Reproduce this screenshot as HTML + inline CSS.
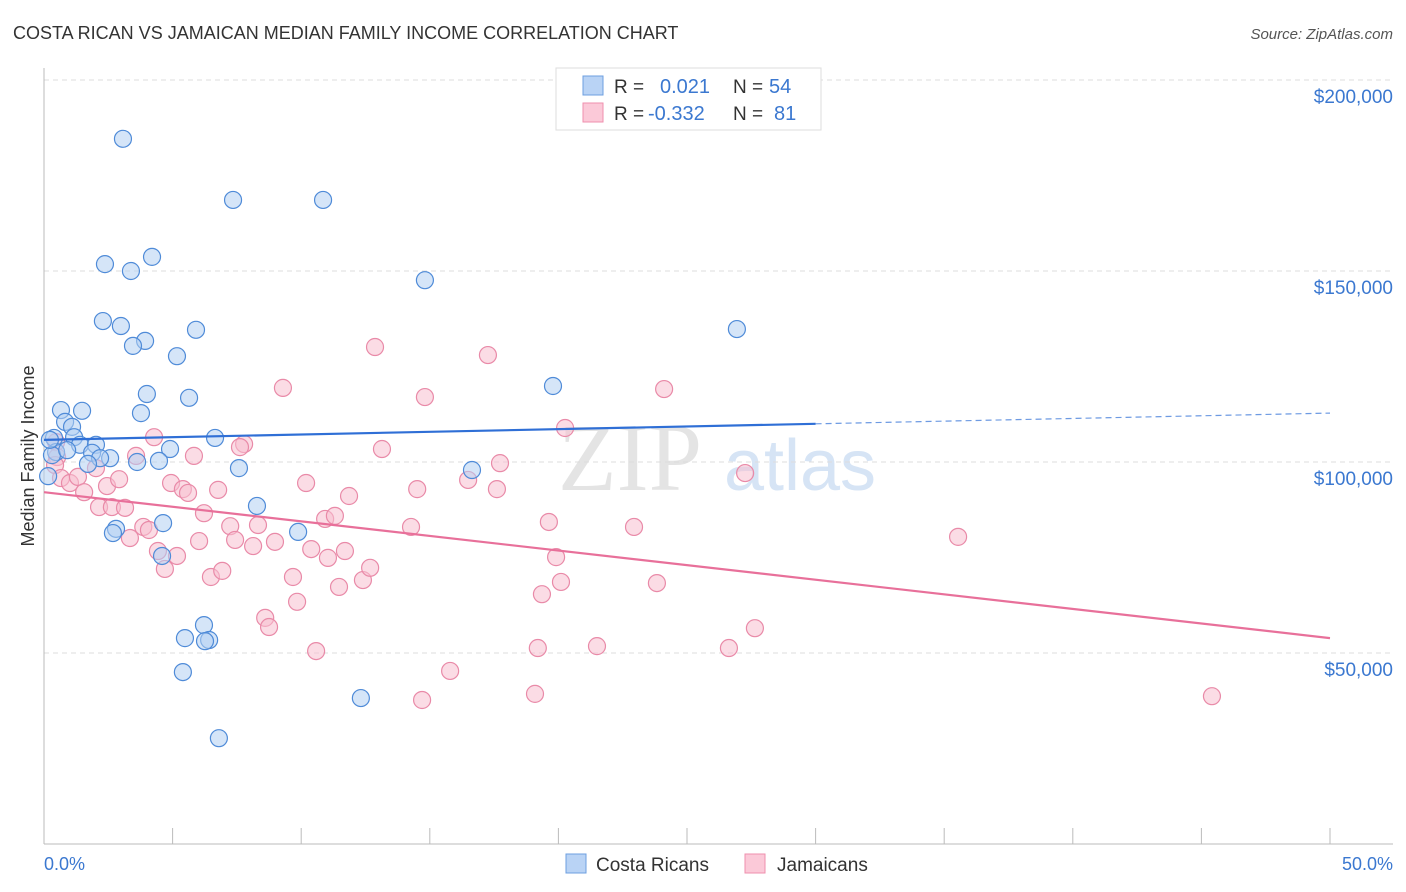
<!DOCTYPE html>
<html><head><meta charset="utf-8"><style>
body{margin:0;background:#fff;font-family:"Liberation Sans",sans-serif;}
svg{display:block}
</style></head><body>
<svg id="chart" width="1406" height="892" xmlns="http://www.w3.org/2000/svg">
<text x="13" y="39" font-size="18" fill="#333">COSTA RICAN VS JAMAICAN MEDIAN FAMILY INCOME CORRELATION CHART</text>
<text x="1393" y="39" font-size="15" fill="#555" text-anchor="end" font-style="italic">Source: ZipAtlas.com</text>
<g>
<text x="630" y="490" font-size="96" fill="#e4e4e4" font-family="Liberation Serif" text-anchor="middle">ZIP</text>
<text x="800" y="490" font-size="72" fill="#d6e4f5" text-anchor="middle">atlas</text>
</g>
<g id="grid"></g>
<g id="axes"></g>
<g id="marks"></g>
<text transform="translate(34,456) rotate(-90)" font-size="18" fill="#333" text-anchor="middle">Median Family Income</text>
<text x="44" y="870" font-size="18" fill="#3b78d0">0.0%</text>
<text x="1393" y="870" font-size="18" fill="#3b78d0" text-anchor="end">50.0%</text>
<g>
<rect x="556" y="68" width="265" height="62" fill="#fff" stroke="#ddd"/>
<rect x="583" y="76" width="20" height="19" fill="#b9d3f5" stroke="#6d9fe0"/>
<rect x="583" y="103" width="20" height="19" fill="#fbc9d8" stroke="#ef8fae"/>
<text x="614" y="93" font-size="19" fill="#333">R =</text>
<text x="660" y="93" font-size="20" fill="#3b78d0">0.021</text>
<text x="733" y="93" font-size="19" fill="#333">N =</text>
<text x="769" y="93" font-size="20" fill="#3b78d0">54</text>
<text x="614" y="120" font-size="19" fill="#333">R =</text>
<text x="648" y="120" font-size="20" fill="#3b78d0">-0.332</text>
<text x="733" y="120" font-size="19" fill="#333">N =</text>
<text x="774" y="120" font-size="20" fill="#3b78d0">81</text>
</g>
<g>
<rect x="566" y="854" width="20" height="19" fill="#b9d3f5" stroke="#6d9fe0"/>
<text x="596" y="871" font-size="19" fill="#333">Costa Ricans</text>
<rect x="745" y="854" width="20" height="19" fill="#fbc9d8" stroke="#ef8fae"/>
<text x="777" y="871" font-size="19" fill="#333">Jamaicans</text>
</g>
</svg>
<script>
const yTicks=[50000,100000,150000,200000];
const yTickLabels=["$50,000","$100,000","$150,000","$200,000"];
const blueX=[3.07,7.35,10.85,2.37,3.38,4.2,14.81,2.29,2.99,5.91,26.94,3.93,3.46,5.17,4.0,5.64,19.79,0.66,1.48,3.77,0.82,1.09,0.39,1.17,6.65,1.4,2.02,0.47,1.87,2.57,2.18,4.9,0.31,4.47,3.62,1.71,7.58,16.64,0.16,8.28,4.63,2.8,2.68,9.88,4.59,6.22,5.48,6.42,6.26,5.4,12.32,6.8,0.23,0.9];
const blueY=[184.6,168.6,168.6,151.8,150.0,153.7,147.6,136.9,135.6,134.6,134.8,131.7,130.4,127.7,117.8,116.8,119.9,113.6,113.4,112.8,110.5,109.2,106.3,106.5,106.3,104.5,104.5,102.6,102.4,101.0,101.0,103.4,101.8,100.3,100.0,99.5,98.4,97.9,96.3,88.5,84.0,82.5,81.4,81.7,75.4,57.3,53.9,53.4,53.1,45.0,38.2,27.7,105.8,103.1];
const pinkX=[4.28,7.78,7.62,13.14,20.26,14.81,9.29,12.87,17.26,24.11,27.26,35.54,45.41,0.47,0.51,0.43,0.66,1.01,1.32,1.56,2.02,2.14,2.45,2.64,2.92,3.15,3.34,3.58,3.86,4.08,4.43,4.7,4.94,5.17,5.4,5.6,5.83,6.03,6.22,6.49,6.77,6.93,7.24,7.43,8.13,8.32,8.6,8.75,8.98,9.68,9.84,10.19,10.39,10.58,10.93,11.04,11.31,11.47,11.7,11.86,12.4,12.68,14.27,14.51,14.7,15.79,16.49,17.61,17.73,19.09,19.2,19.36,19.63,19.91,20.1,21.5,22.94,23.83,26.63,27.64];
const pinkY=[106.5,104.7,103.9,103.4,108.9,117.0,119.4,130.1,128.0,119.1,97.1,80.4,38.7,105.2,101.3,99.2,95.8,94.5,96.1,92.1,98.4,88.2,93.7,88.2,95.5,88.0,80.1,101.6,83.0,82.2,76.7,72.0,94.5,75.4,92.9,91.9,101.6,79.3,86.6,69.9,92.7,71.5,83.2,79.6,78.0,83.5,59.2,56.8,79.1,69.9,63.4,94.5,77.2,50.5,85.1,74.9,85.9,67.3,76.7,91.1,69.1,72.3,83.0,92.9,37.7,45.3,95.3,92.9,99.7,39.3,51.3,65.4,84.3,75.1,68.6,51.8,83.0,68.3,51.3,56.5];
const blueTrend=[105.8,112.8]; // at 0% and 50% (k$)
const pinkTrend=[92.1,53.9];
const xScale=p=>44+p*25.72;
const yScale=v=>844-v*3.82; // v in thousands
const NS="http://www.w3.org/2000/svg";
function mk(tag,attrs,parent){const e=document.createElementNS(NS,tag);for(const k in attrs)e.setAttribute(k,attrs[k]);document.getElementById(parent).appendChild(e);return e;}
yTicks.forEach((t,i)=>{
 const y=yScale(t/1000);
 const g=mk('line',{x1:44,x2:1393,y1:y,y2:y,stroke:'#ddd','stroke-dasharray':'5,4'},'grid');
 
 
 const tx=mk('text',{x:1393,y:y+23,'font-size':19,fill:'#3b78d0','text-anchor':'end'},'grid');
 tx.textContent=yTickLabels[i];
 
 
});
let a=mk('line',{x1:44,x2:44,y1:68,y2:844,stroke:'#bbb'},'axes');


a=mk('line',{x1:44,x2:1393,y1:844,y2:844,stroke:'#bbb'},'axes');


for(let p=5;p<=50;p+=5){const t=mk('line',{x1:xScale(p),x2:xScale(p),y1:828,y2:844,stroke:'#bbb'},'axes');
 
 }
function dots(xs,ys,fill,stroke,name){xs.forEach((x,i)=>{const c=mk('circle',{cx:xScale(x),cy:yScale(ys[i]),r:8.5,fill:fill,'fill-opacity':0.55,stroke:stroke,'stroke-width':1.2},'marks');
 
 });}
dots(pinkX,pinkY,'#f8bfd0','#e98aa8','jamaican-point');
dots(blueX,blueY,'#b3cff3','#4f8bd8','costa-rican-point');
const bAt=p=>blueTrend[0]+(blueTrend[1]-blueTrend[0])*p/50;
let l=mk('line',{x1:xScale(0),y1:yScale(bAt(0)),x2:xScale(30),y2:yScale(bAt(30)),stroke:'#2f6fd6','stroke-width':2.2},'marks');


l=mk('line',{x1:xScale(30),y1:yScale(bAt(30)),x2:xScale(50),y2:yScale(bAt(50)),stroke:'#2f6fd6','stroke-width':1.2,'stroke-dasharray':'6,4','stroke-opacity':0.7},'marks');


l=mk('line',{x1:xScale(0),y1:yScale(pinkTrend[0]),x2:xScale(50),y2:yScale(pinkTrend[1]),stroke:'#e8709a','stroke-width':2.2},'marks');


</script>
</body></html>
